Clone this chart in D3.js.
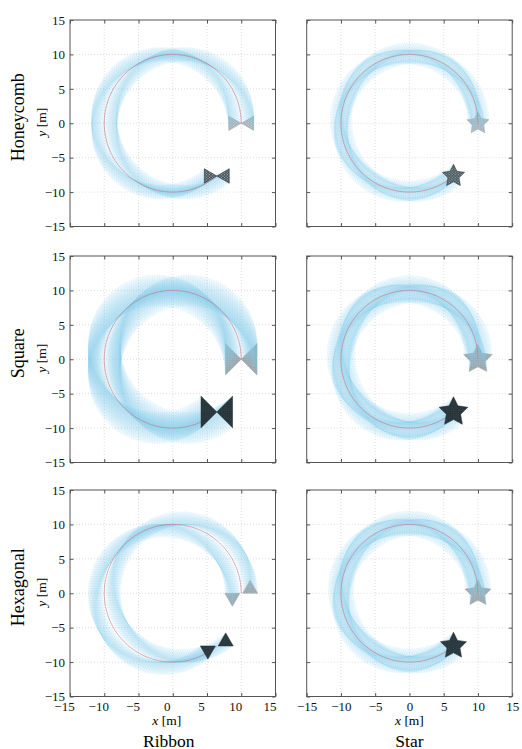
<!DOCTYPE html>
<html>
<head>
<meta charset="utf-8">
<script src="https://cdn.jsdelivr.net/npm/d3@7"></script>
<style>
  body { margin: 0; background: #fff; }
  svg { display: block; }
</style>
</head>
<body>
<script>
const rowNames = ["Honeycomb", "Square", "Hexagonal"];
const colNames = ["Ribbon", "Star"];
const tickValues = [-15, -10, -5, 0, 5, 10, 15];
const gridValues = [-10, -5, 0, 5, 10];

// trajectory: circle round the origin, start (10,0), counter-clockwise
const pathRadius = 10;
const pathStartDeg = 0;
const pathEndDeg = 310;

// shapes in metres, relative to the shape centre
const ribbonHoneycomb = [[[-1.82, 1.05], [0, 0], [1.82, 1.05], [1.82, -1.05], [0, 0], [-1.82, -1.05]]];
const ribbonSquare = [[[-2.3, 2.3], [0, 0], [2.3, 2.3], [2.3, -2.3], [0, 0], [-2.3, -2.3]]];
const ribbonHexagonal = [[[-2.4, 0], [-0.2, 0], [-1.3, -1.9]], [[0.2, 0], [2.4, 0], [1.3, 1.9]]];
const starUnit = [[0, 1], [0.294, 0.405], [0.951, 0.309], [0.476, -0.155], [0.588, -0.809],
  [0, -0.5], [-0.588, -0.809], [-0.476, -0.155], [-0.951, 0.309], [-0.294, 0.405]];
const starRadius = [1.7, 2.2, 2.0];
const latticeKind = ["honeycomb", "square", "hexagonal"];

const ribbons = [ribbonHoneycomb, ribbonSquare, ribbonHexagonal];

const W = 205.5, H = 206.5;
const colX = [70, 306.7];
const rowY = [20, 256, 490];
const serif = "'Liberation Serif', 'Times New Roman', serif";

const svg = d3.select("body").append("svg")
    .attr("width", 522)
    .attr("height", 749);

const defs = svg.append("defs");

// lattice textures for the start (grey) and end (dark) shapes
function addPattern(id, kind, bg, fg) {
    let w, h, pts, r;
    if (kind === "honeycomb") { w = 3; h = 2.6; r = 0.75; pts = [[0, 0], [3, 0], [1.5, 1.3], [0, 2.6], [3, 2.6]]; }
    else if (kind === "square") { w = 2.3; h = 2.3; r = 0.45; pts = [[0, 0], [2.3, 0], [0, 2.3], [2.3, 2.3]]; }
    else { w = 2.6; h = 2.25; r = 0.4; pts = [[0, 0], [2.6, 0], [1.3, 1.125], [0, 2.25], [2.6, 2.25]]; }
    const p = defs.append("pattern")
        .attr("id", id)
        .attr("patternUnits", "userSpaceOnUse")
        .attr("width", w)
        .attr("height", h);
    p.append("rect").attr("width", w).attr("height", h).attr("fill", bg);
    p.selectAll("circle").data(pts).join("circle")
        .attr("cx", d => d[0]).attr("cy", d => d[1]).attr("r", r)
        .attr("fill", fg);
}
latticeKind.forEach(k => {
    addPattern("end-" + k, k, "#26343a", k === "honeycomb" ? "#b9c6cb" : "#4d5e64");
    addPattern("start-" + k, k, "#a0a0a0", "#dcdcdc");
});

const rad = d => d * Math.PI / 180;
const at = deg => [pathRadius * Math.cos(rad(deg)), pathRadius * Math.sin(rad(deg))];

rowNames.forEach((rowName, r) => {
    colNames.forEach((colName, c) => {
        const g = svg.append("g")
            .attr("transform", `translate(${colX[c]},${rowY[r]})`);

        const xScale = d3.scaleLinear().domain([-15, 15]).range([0, W]);
        const yScale = d3.scaleLinear().domain([-15, 15]).range([H, 0]);
        const line = d3.line().x(d => xScale(d[0])).y(d => yScale(d[1]));

        // dotted grid
        g.append("g").selectAll("line").data(gridValues).join("line")
            .attr("x1", d => xScale(d)).attr("x2", d => xScale(d))
            .attr("y1", 0).attr("y2", H)
            .attr("stroke", "#c8c8c8").attr("stroke-width", 0.6)
            .attr("stroke-dasharray", "1,2");
        g.append("g").selectAll("line").data(gridValues).join("line")
            .attr("y1", d => yScale(d)).attr("y2", d => yScale(d))
            .attr("x1", 0).attr("x2", W)
            .attr("stroke", "#c8c8c8").attr("stroke-width", 0.6)
            .attr("stroke-dasharray", "1,2");

        const polys = c === 0 ? ribbons[r]
            : [starUnit.map(p => [p[0] * starRadius[r], p[1] * starRadius[r]])];
        const shapeAt = (pos) => polys.map(poly =>
            line(poly.map(p => [p[0] + pos[0], p[1] + pos[1]])) + "Z").join("");

        // start shape (grey)
        g.append("path")
            .attr("d", shapeAt(at(pathStartDeg)))
            .attr("fill", `url(#start-${latticeKind[r]})`)
            .attr("stroke", "#a0a0a0").attr("stroke-width", 0.4);

        // swept outlines along the trajectory
        const sweep = d3.range(pathStartDeg, pathEndDeg + 0.01, 2);
        g.append("g").selectAll("path").data(sweep).join("path")
            .attr("d", d => shapeAt(at(d)))
            .attr("fill", "#86cfee").attr("fill-opacity", 0.1)
            .attr("stroke", "#6ac4ea").attr("stroke-opacity", 0.22)
            .attr("stroke-width", 0.5);

        // reference trajectory
        g.append("path")
            .attr("d", line(d3.range(pathStartDeg, pathEndDeg + 0.5, 1).map(at)))
            .attr("fill", "none")
            .attr("stroke", "#c47a86").attr("stroke-width", 0.8).attr("stroke-opacity", 0.85);

        // end shape (dark)
        g.append("path")
            .attr("d", shapeAt(at(pathEndDeg)))
            .attr("fill", `url(#end-${latticeKind[r]})`)
            .attr("stroke", "#1e2a2f").attr("stroke-width", 0.5);

        // axes, ticks pointing inward on all four sides
        const styleAxis = (sel, showText, dx) => {
            sel.attr("font-family", serif).attr("font-size", 13);
            sel.select(".domain").remove();
            sel.selectAll(".tick line").attr("stroke", "#555");
            sel.selectAll("text")
                .attr("font-family", serif)
                .attr("fill", "#111")
                .attr("dx", dx || 0)
                .style("display", showText ? null : "none");
        };
        g.append("g").attr("transform", `translate(0,${H})`)
            .call(d3.axisBottom(xScale).tickValues(tickValues).tickSizeInner(-3.5).tickSizeOuter(0).tickPadding(5))
            .call(s => styleAxis(s, r === 2, c === 0 ? -6 : 0));
        g.append("g")
            .call(d3.axisTop(xScale).tickValues(tickValues).tickSizeInner(-3.5).tickSizeOuter(0))
            .call(s => styleAxis(s, false));
        g.append("g")
            .call(d3.axisLeft(yScale).tickValues(tickValues).tickSizeInner(-3.5).tickSizeOuter(0).tickPadding(5))
            .call(s => styleAxis(s, c === 0));
        g.append("g").attr("transform", `translate(${W},0)`)
            .call(d3.axisRight(yScale).tickValues(tickValues).tickSizeInner(-3.5).tickSizeOuter(0))
            .call(s => styleAxis(s, false));

        g.append("rect")
            .attr("width", W).attr("height", H)
            .attr("fill", "none").attr("stroke", "#555").attr("stroke-width", 1);

        // row labels
        if (c === 0) {
            const cy = H / 2 - 6;
            svg.append("text")
                .attr("transform", `translate(24,${rowY[r] + cy}) rotate(-90)`)
                .attr("font-family", serif).attr("font-size", 18)
                .style("text-anchor", "middle")
                .text(rowName);
            const yl = svg.append("text")
                .attr("transform", `translate(46,${rowY[r] + H / 2 - 1}) rotate(-90)`)
                .attr("font-family", serif).attr("font-size", 13.5)
                .style("text-anchor", "middle");
            yl.append("tspan").attr("font-style", "italic").text("y");
            yl.append("tspan").text(" [m]");
        }

        // column labels
        if (r === 2) {
            const cx = colX[c] + W / 2 + (c === 0 ? -6 : 0);
            const xl = svg.append("text")
                .attr("x", cx).attr("y", rowY[r] + H + 28)
                .attr("font-family", serif).attr("font-size", 13.5)
                .style("text-anchor", "middle");
            xl.append("tspan").attr("font-style", "italic").text("x");
            xl.append("tspan").text(" [m]");
            svg.append("text")
                .attr("x", cx + (c === 0 ? 2 : 0)).attr("y", rowY[r] + H + 50)
                .attr("font-family", serif).attr("font-size", 17.5)
                .style("text-anchor", "middle")
                .text(colName);
        }
    });
});
</script>
</body>
</html>
